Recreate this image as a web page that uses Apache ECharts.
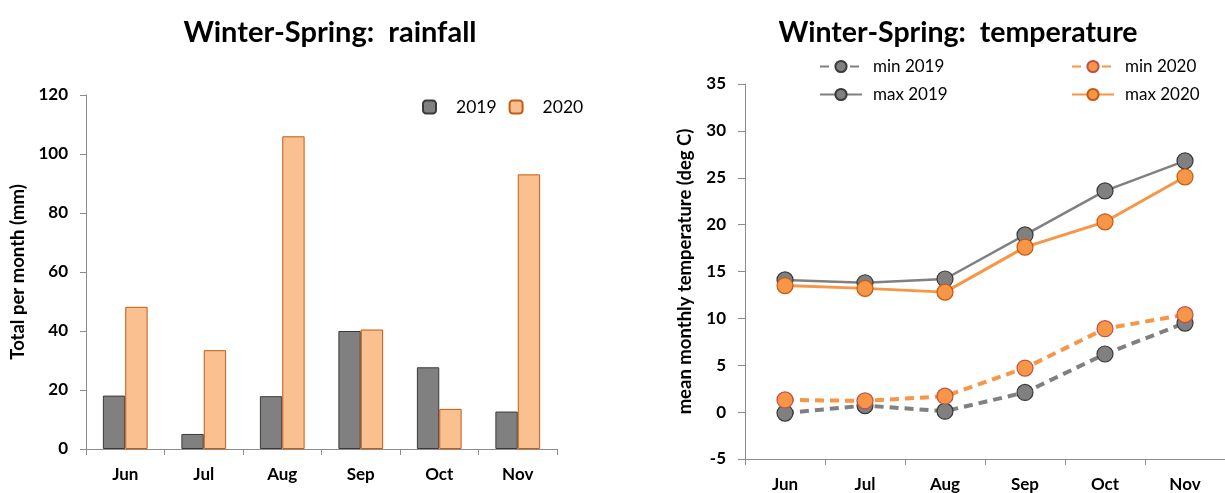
<!DOCTYPE html>
<html>
<head>
<meta charset="utf-8">
<script src="https://cdn.jsdelivr.net/npm/echarts@6/dist/echarts.min.js"></script>
<style>html,body{margin:0;padding:0;background:#fff;}#c{width:1225px;height:493px;}</style>
</head>
<body>
<div id="c"></div>
<script>
const months = ['Jun','Jul','Aug','Sep','Oct','Nov'];
const rain2019 = [18.1, 5.1, 17.9, 40.0, 27.7, 12.7];
const rain2020 = [48.2, 33.5, 106.0, 40.5, 13.6, 93.1];
const min2019 = [-0.1, 0.7, 0.1, 2.1, 6.2, 9.5];
const min2020 = [1.3, 1.2, 1.7, 4.7, 8.9, 10.4];
const max2019 = [14.1, 13.8, 14.2, 18.9, 23.6, 26.8];
const max2020 = [13.5, 13.2, 12.8, 17.6, 20.3, 25.1];
const rainTicks = [0, 20, 40, 60, 80, 100, 120];
const tempTicks = [-5, 0, 5, 10, 15, 20, 25, 30, 35];

const FONT = 'Lato';
const axisLineStyle = {color: '#8c8c8c', width: 1};
const grey = '#808080', greyBorder = '#3a3a3a';
const orange = '#f79646', orangeBorder = '#c65a10';

const chart = echarts.init(document.getElementById('c'), null, {renderer: 'canvas'});
chart.setOption({
  animation: false,
  textStyle: {fontFamily: FONT},
  title: [
    {text: 'Winter-Spring:  rainfall', left: 325, top: 13, textAlign: 'center',
     textStyle: {fontFamily: FONT, fontSize: 29, fontWeight: 'bold', color: '#000'}},
    {text: 'Winter-Spring:  temperature', left: 953, top: 13, textAlign: 'center',
     textStyle: {fontFamily: FONT, fontSize: 28.5, fontWeight: 'bold', color: '#000'}}
  ],
  legend: [
    {data: ['2019', '2020'], left: 417, top: 93, itemWidth: 13, itemHeight: 13, itemGap: 12,
     textStyle: {fontFamily: FONT, fontSize: 17.5, color: '#000', padding: [0,0,0,15]}},
    {data: ['min 2019', 'max 2019'], orient: 'vertical', left: 814, top: 53, itemWidth: 42, itemHeight: 14, itemGap: 11,
     textStyle: {fontFamily: FONT, fontSize: 17, color: '#000', padding: [0,0,0,6]}},
    {data: ['min 2020', 'max 2020'], orient: 'vertical', left: 1066, top: 53, itemWidth: 42, itemHeight: 14, itemGap: 11,
     textStyle: {fontFamily: FONT, fontSize: 17, color: '#000', padding: [0,0,0,6]}}
  ],
  grid: [
    {left: 86, width: 471, top: 95, height: 354},
    {left: 745, width: 486, top: 84, height: 376}
  ],
  xAxis: [
    {type: 'category', gridIndex: 0, data: months,
     axisLine: {lineStyle: axisLineStyle}, axisTick: {show: true, length: 6, lineStyle: axisLineStyle},
     axisLabel: {fontFamily: FONT, fontSize: 17, fontWeight: 'bold', color: '#000', margin: 17}},
    {type: 'category', gridIndex: 1, data: months, boundaryGap: true,
     axisLine: {onZero: false, lineStyle: axisLineStyle}, axisTick: {show: true, length: 6, lineStyle: axisLineStyle},
     axisLabel: {fontFamily: FONT, fontSize: 17, fontWeight: 'bold', color: '#000', margin: 17}}
  ],
  yAxis: [
    {type: 'value', gridIndex: 0, min: rainTicks[0], max: rainTicks[rainTicks.length-1], interval: 20,
     name: 'Total per month (mm)', nameLocation: 'middle', nameGap: 58, nameRotate: 90,
     nameTextStyle: {fontFamily: FONT, fontSize: 18.5, fontWeight: 'bold', color: '#000'},
     axisLine: {show: true, lineStyle: axisLineStyle}, axisTick: {show: true, length: 6, lineStyle: axisLineStyle},
     splitLine: {show: false},
     axisLabel: {fontFamily: FONT, fontSize: 17, fontWeight: 'bold', color: '#000', margin: 18}},
    {type: 'value', gridIndex: 1, min: tempTicks[0], max: tempTicks[tempTicks.length-1], interval: 5,
     name: 'mean monthly temperature (deg C)', nameLocation: 'middle', nameGap: 50, nameRotate: 90,
     nameTextStyle: {fontFamily: FONT, fontSize: 18.5, fontWeight: 'bold', color: '#000'},
     axisLine: {show: true, lineStyle: axisLineStyle}, axisTick: {show: true, length: 7, lineStyle: axisLineStyle},
     splitLine: {show: false},
     axisLabel: {fontFamily: FONT, fontSize: 17, fontWeight: 'bold', color: '#000', margin: 19}}
  ],
  series: [
    {name: '2019', type: 'bar', xAxisIndex: 0, yAxisIndex: 0, data: rain2019,
     barWidth: '28.5%', barGap: '0%',
     itemStyle: {color: grey, borderColor: greyBorder, borderWidth: 1}},
    {name: '2020', type: 'bar', xAxisIndex: 0, yAxisIndex: 0, data: rain2020,
     barWidth: '28.5%', barGap: '0%',
     itemStyle: {color: '#fac090', borderColor: orangeBorder, borderWidth: 1}},
    {name: 'min 2019', type: 'line', xAxisIndex: 1, yAxisIndex: 1, data: min2019,
     symbol: 'circle', symbolSize: 16,
     lineStyle: {color: grey, width: 4, type: [9, 6]},
     itemStyle: {color: grey, borderColor: greyBorder, borderWidth: 1.2}},
    {name: 'max 2019', type: 'line', xAxisIndex: 1, yAxisIndex: 1, data: max2019,
     symbol: 'circle', symbolSize: 16,
     lineStyle: {color: grey, width: 2.5},
     itemStyle: {color: grey, borderColor: greyBorder, borderWidth: 1.2}},
    {name: 'min 2020', type: 'line', xAxisIndex: 1, yAxisIndex: 1, data: min2020,
     symbol: 'circle', symbolSize: 16,
     lineStyle: {color: orange, width: 4, type: [9, 6]},
     itemStyle: {color: orange, borderColor: '#c0504d', borderWidth: 1.2}},
    {name: 'max 2020', type: 'line', xAxisIndex: 1, yAxisIndex: 1, data: max2020,
     symbol: 'circle', symbolSize: 16,
     lineStyle: {color: orange, width: 3},
     itemStyle: {color: orange, borderColor: orangeBorder, borderWidth: 1.2}}
  ]
});
</script>
</body>
</html>
